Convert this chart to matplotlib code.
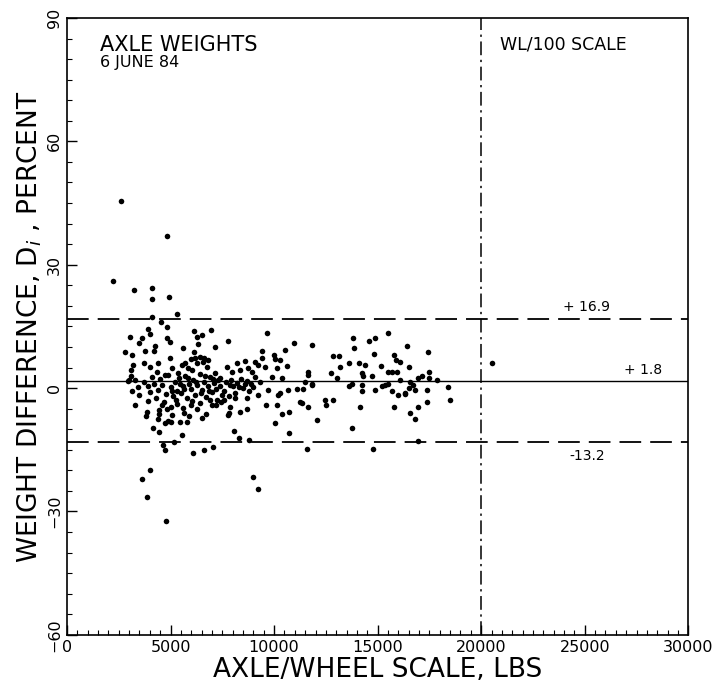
import matplotlib
matplotlib.use("Agg")
import matplotlib.pyplot as plt
import numpy as np
from matplotlib.ticker import MultipleLocator

# axle/wheel scale reading (thousands of lbs) and weight difference (percent)
x_k = [2.62, 4.82, 2.20, 4.10, 3.24, 4.12, 4.94, 5.30, 4.12, 4.54, 4.85, 3.90, 3.04, 3.61, 4.01,
       3.49, 4.27, 4.22, 4.82, 4.98, 5.62, 6.14, 6.29, 6.51, 6.96, 7.79, 7.15, 6.34, 6.14, 2.80,
       3.12, 3.20, 3.08, 3.73, 3.77, 4.01, 4.41, 4.98, 5.06, 5.54, 5.86, 6.27, 6.59, 6.75, 4.33,
       4.73, 5.38, 6.02, 7.15, 7.71, 7.39,
       3.16, 3.44, 3.29, 3.93, 3.85, 3.82, 4.46, 4.43, 4.82, 5.06, 4.73, 5.01, 5.46, 5.78, 5.65,
       6.29, 6.71, 6.99, 7.43, 7.79, 4.17, 4.46, 5.54, 4.65, 4.73, 5.17, 6.07, 6.62, 7.04, 4.01,
       3.61, 3.86, 4.78,
       9.68, 10.98, 11.84, 10.53, 9.43, 13.83, 13.88, 12.86, 13.14, 9.99, 10.05, 10.29, 9.41, 13.62,
       13.19, 8.20, 8.60, 9.08, 9.24, 9.57, 10.61, 10.13, 11.63, 11.66, 12.75, 13.03, 7.96, 8.36,
       8.76, 8.92, 9.89, 10.37, 11.50, 11.82, 13.75,
       7.87, 8.60, 9.24, 9.72, 10.21, 10.29, 10.69, 11.09, 11.42, 11.82, 13.62, 8.12, 8.71, 7.87,
       7.83, 8.36, 8.68, 9.60, 10.13, 11.26, 11.34, 11.66, 12.46, 12.51, 12.86, 10.72, 10.37, 10.05,
       12.06, 13.75, 8.07, 8.31, 8.79, 10.72, 11.61, 8.97, 9.20,
       15.49, 14.56, 14.88, 14.83, 16.41, 17.43, 15.77, 15.90, 16.06, 16.52, 15.17, 14.12, 14.40,
       15.52, 15.68, 15.93, 14.24, 14.31, 14.75, 16.06, 17.14, 17.49, 17.46, 17.86, 16.97, 16.57,
       14.24, 14.24, 14.88, 15.20, 15.36, 15.52, 15.68, 16.00, 16.33, 16.49, 16.73, 16.81,
       17.38, 18.39, 18.50, 17.38, 16.94, 16.30, 15.81, 14.15, 16.57, 16.81, 16.97, 14.77,
       20.50,
       7.70, 7.90, 8.00, 8.20, 8.40, 8.50, 8.70, 8.90, 9.10, 9.30, 7.60, 8.10, 8.30, 8.80, 9.00,
       4.20, 4.40, 4.60, 4.80, 5.00, 5.10, 5.20, 5.30, 5.40, 5.50, 5.60, 5.70, 5.80, 5.90, 6.00,
       6.10, 6.20, 6.30, 6.40, 6.50, 6.60, 6.70, 6.80, 6.90, 7.00, 7.10, 7.20, 7.30, 7.40, 7.50,
       4.30, 4.50, 4.70, 4.90, 5.05, 5.25, 5.45, 5.65, 5.85, 6.05, 6.25, 6.45, 6.65, 6.85, 7.05,
       7.25, 3.90, 4.00, 4.10, 3.70, 3.50, 3.30,
       6.00, 6.20, 6.40, 6.60, 6.80, 5.70,
       4.60, 5.00, 5.30, 5.60, 6.00, 6.40, 6.90, 7.20, 5.90, 6.50, 4.40, 4.90, 7.60, 7.80,
       2.96, 3.10, 3.00]
diff_pct = [45.4, 37.1, 26.0, 24.4, 23.8, 21.6, 22.1, 18.1, 17.3, 16.1, 14.8, 14.4, 12.5, 12.1, 13.1,
            10.9, 10.2, 9.1, 12.3, 11.3, 9.8, 14.0, 12.5, 12.9, 14.2, 11.4, 10.0, 10.6, 8.8, 8.8,
            8.0, 5.6, 4.3, 6.0, 9.0, 5.2, 6.0, 7.4, 4.8, 5.6, 4.8, 6.0, 6.4, 5.2, 3.8,
            3.2, 3.6, 4.4, 3.6, 5.2, 2.4,
            -0.7, 0.3, -4.1, -3.1, -5.8, -6.8, -5.4, -6.4, -5.2, -6.6, -8.4, -8.3, -8.3, -8.2, -6.0,
            -5.1, -6.3, -4.2, -3.3, -6.6, -9.6, -10.6, -11.4, -13.9, -15.1, -13.1, -15.7, -15.1, -14.4, -20.0,
            -22.2, -26.6, -32.3,
            13.3, 11.0, 10.5, 9.2, 9.1, 12.1, 9.8, 7.9, 7.9, 8.0, 7.0, 6.8, 7.4, 6.2,
            5.2, 6.2, 6.6, 6.4, 5.6, 5.2, 5.4, 4.8, 3.8, 3.2, 3.6, 2.5, 3.8, 4.4,
            4.8, 3.8, 2.7, 2.5, 1.5, 1.1, 1.1,
            0.7, 1.1, -1.7, -0.5, -1.7, -1.3, -0.5, -0.3, -0.3, 0.7, 0.5, -2.5, -2.5, -4.5,
            -6.0, -5.8, -5.1, -4.1, -4.1, -3.3, -3.7, -4.7, -2.9, -4.1, -2.8, -5.9, -6.3, -8.4,
            -7.8, -9.8, -10.4, -12.1, -12.7, -11.0, -14.8, -21.7, -24.5,
            13.3, 11.4, 12.1, 8.4, 10.3, 8.8, 8.0, 6.8, 6.4, 5.2, 5.4, 6.2, 5.6,
            4.0, 3.8, 3.8, 3.6, 3.0, 3.0, 1.9, 3.0, 4.0, 2.4, 1.9, 2.4, 1.5,
            0.7, -0.7, -0.5, 0.6, 0.7, 1.1, -0.7, -1.7, -1.3, -0.1, 0.7, -0.5,
            -0.5, 0.2, -2.9, -3.3, -4.5, -1.5, -4.7, -4.7, -6.0, -7.4, -12.9, -14.8,
            6.0,
            1.5, 2.0, 0.5, 1.2, 2.2, 0.0, 1.8, 0.9, 2.8, 1.5, -0.8, -1.2, 0.3, -0.6, 0.2,
            1.0, -0.5, 0.8, -1.5, 0.2, -2.0, 1.5, -0.8, 2.5, -1.2, 0.5, 3.0, -2.5, 1.0, -0.3,
            2.0, -1.8, 0.8, 3.5, -0.5, 1.6, -2.2, 0.4, 2.6, -1.0, 1.2, -0.2, 2.0, 0.6, -1.6,
            -2.5, 2.2, -3.5, 3.2, -0.6, -3.0, 0.9, -0.2, 2.4, -3.2, 1.4, -1.2, 3.0, -0.8, 2.2,
            -2.8, 0.5, -1.0, 2.8, 1.5, -1.8, 2.0,
            7.0, 7.3, 7.5, 7.4, 6.8, 6.2,
            -4.0, -4.5, -3.8, -4.8, -4.2, -3.6, -3.0, -4.0, -6.8, -7.2, -7.5, -8.0, -3.0, -2.0,
            1.8, 3.0, 2.0]

mean_line = 1.8
upper_line = 16.9
lower_line = -13.2
scale_split = 20000

fig = plt.figure(figsize=(7.2, 6.93), dpi=100)
ax = fig.add_axes([0.093, 0.084, 0.863, 0.89])

ax.plot(np.array(x_k) * 1000, diff_pct, 'o', color='black', markersize=4.0, markeredgewidth=0)

ax.axhline(mean_line, color='black', linewidth=1.0)
ax.axhline(upper_line, color='black', linewidth=1.3, dashes=(12, 5))
ax.axhline(lower_line, color='black', linewidth=1.3, dashes=(12, 5))
ax.axvline(scale_split, color='black', linewidth=1.1, dashes=(9, 3, 1.5, 3))

ax.text(1600, 83.5, 'AXLE WEIGHTS', fontsize=15, va='center', ha='left')
ax.text(1600, 79.2, '6 JUNE 84', fontsize=11.5, va='center', ha='left')
ax.text(20900, 83.5, 'WL/100 SCALE', fontsize=12.5, va='center', ha='left')
ax.text(25100, 19.6, '+ 16.9', fontsize=10, va='center', ha='center')
ax.text(27800, 4.4, '+ 1.8', fontsize=10, va='center', ha='center')
ax.text(25100, -16.5, '-13.2', fontsize=10, va='center', ha='center')

ax.set_xlim(0, 30000)
ax.set_ylim(-60, 90)
ax.xaxis.set_major_locator(MultipleLocator(5000))
ax.xaxis.set_minor_locator(MultipleLocator(500))
ax.yaxis.set_major_locator(MultipleLocator(30))
ax.yaxis.set_minor_locator(MultipleLocator(5))
ax.tick_params(which='major', direction='in', length=7, width=1, labelsize=11.5)
ax.tick_params(which='minor', direction='in', length=3.5, width=0.8)
for lab in ax.get_yticklabels():
    lab.set_rotation(90)
    lab.set_va('center')

ax.set_xlabel('AXLE/WHEEL SCALE, LBS', fontsize=19, labelpad=2)
ax.set_ylabel('WEIGHT DIFFERENCE, D$_i$ , PERCENT', fontsize=19, labelpad=2)

for s in ax.spines.values():
    s.set_linewidth(1.2)

fig.savefig('out.png', dpi=100)
